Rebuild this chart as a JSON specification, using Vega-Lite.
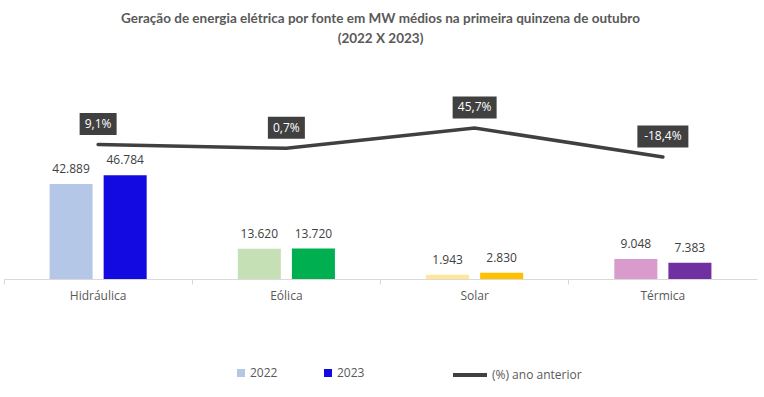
{
  "$schema": "https://vega.github.io/schema/vega-lite/v6.json",
  "width": 753,
  "height": 199,
  "autosize": {"type": "none"},
  "padding": {"left": 4, "top": 80, "right": 7, "bottom": 118},
  "background": "white",
  "title": {
    "text": ["Geração de energia elétrica por fonte em MW médios na primeira quinzena de outubro", "(2022 X 2023)"],
    "font": "Lato",
    "fontSize": 13.5,
    "fontWeight": "bold",
    "color": "#595959",
    "anchor": "middle",
    "lineHeight": 20,
    "offset": 35
  },
  "datasets": {
    "barras": [
      {"fonte": "Hidráulica", "ano": "2022", "valor": 42889},
      {"fonte": "Hidráulica", "ano": "2023", "valor": 46784},
      {"fonte": "Eólica", "ano": "2022", "valor": 13620},
      {"fonte": "Eólica", "ano": "2023", "valor": 13720},
      {"fonte": "Solar", "ano": "2022", "valor": 1943},
      {"fonte": "Solar", "ano": "2023", "valor": 2830},
      {"fonte": "Térmica", "ano": "2022", "valor": 9048},
      {"fonte": "Térmica", "ano": "2023", "valor": 7383}
    ],
    "variacao": [
      {"fonte": "Hidráulica", "var": 0.091},
      {"fonte": "Eólica", "var": 0.007},
      {"fonte": "Solar", "var": 0.457},
      {"fonte": "Térmica", "var": -0.184}
    ]
  },
  "encoding": {
    "x": {
      "field": "fonte",
      "type": "nominal",
      "sort": ["Hidráulica", "Eólica", "Solar", "Térmica"],
      "scale": {"paddingInner": 0, "paddingOuter": 0},
      "axis": {
        "title": null,
        "labelAngle": 0,
        "bandPosition": 0,
        "domainColor": "#D9D9D9",
        "tickColor": "#D9D9D9",
        "tickSize": 5,
        "labelPadding": 6,
        "labelFont": "Open Sans",
        "labelFontSize": 12,
        "labelColor": "#595959"
      }
    }
  },
  "layer": [
    {
      "data": {"name": "barras"},
      "encoding": {
        "xOffset": {"field": "ano", "type": "nominal", "scale": {"paddingInner": 0.204, "paddingOuter": 0.843}},
        "y": {"field": "valor", "type": "quantitative", "scale": {"domain": [0, 89840]}, "axis": null}
      },
      "layer": [
        {
          "mark": {"type": "bar"},
          "encoding": {
            "color": {
              "condition": [
                {"test": "datum.fonte === 'Eólica' && datum.ano === '2022'", "value": "#C5E0B4"},
                {"test": "datum.fonte === 'Eólica' && datum.ano === '2023'", "value": "#00B050"},
                {"test": "datum.fonte === 'Solar' && datum.ano === '2022'", "value": "#FFE699"},
                {"test": "datum.fonte === 'Solar' && datum.ano === '2023'", "value": "#FFC000"},
                {"test": "datum.fonte === 'Térmica' && datum.ano === '2022'", "value": "#D99BCC"},
                {"test": "datum.fonte === 'Térmica' && datum.ano === '2023'", "value": "#7030A0"}
              ],
              "field": "ano",
              "type": "nominal",
              "scale": {"domain": ["2022", "2023"], "range": ["#B4C7E7", "#130AE2"]},
              "legend": {
                "orient": "none",
                "legendX": 231,
                "legendY": 287,
                "direction": "horizontal",
                "title": null,
                "symbolType": "square",
                "symbolSize": 64,
                "symbolStrokeWidth": 0,
                "columnPadding": 44,
                "labelOffset": 3,
                "labelFont": "Open Sans",
                "labelFontSize": 12,
                "labelColor": "#595959"
              }
            }
          }
        },
        {
          "mark": {"type": "text", "baseline": "bottom", "dy": -8, "font": "Open Sans", "fontSize": 12, "color": "#404040"},
          "encoding": {
            "text": {"field": "valor", "type": "quantitative", "format": ",.0f"}
          }
        }
      ]
    },
    {
      "data": {"name": "variacao"},
      "encoding": {
        "y": {"field": "var", "type": "quantitative", "scale": {"domain": [-2.884, 1.519]}, "axis": null}
      },
      "layer": [
        {
          "mark": {"type": "line", "strokeWidth": 3.5, "strokeCap": "round"},
          "encoding": {
            "stroke": {
              "datum": "(%) ano anterior",
              "type": "nominal",
              "scale": {"range": ["#404040"]},
              "legend": {
                "orient": "none",
                "legendX": 447,
                "legendY": 276,
                "title": null,
                "symbolType": "stroke",
                "symbolSize": 1156,
                "symbolStrokeWidth": 4,
                "labelOffset": 3,
                "labelFont": "Open Sans",
                "labelFontSize": 12,
                "labelColor": "#595959"
              }
            }
          }
        },
        {
          "mark": {"type": "rect", "color": "#404040", "yOffset": -31.5, "y2Offset": -9.5, "width": {"expr": "length(format(datum['var'], '.1%')) * 7 + 9"}},
          "encoding": {
            "y2": {"field": "var"}
          }
        },
        {
          "mark": {"type": "text", "baseline": "middle", "dy": -20.5, "font": "Open Sans", "fontSize": 12, "color": "white"},
          "encoding": {
            "text": {"field": "var", "type": "quantitative", "format": ".1%"}
          }
        }
      ]
    }
  ],
  "resolve": {"scale": {"y": "independent"}},
  "config": {
    "locale": {"number": {"decimal": ",", "thousands": ".", "grouping": [3], "currency": ["R$", ""], "minus": "-"}},
    "view": {"stroke": null}
  }
}
